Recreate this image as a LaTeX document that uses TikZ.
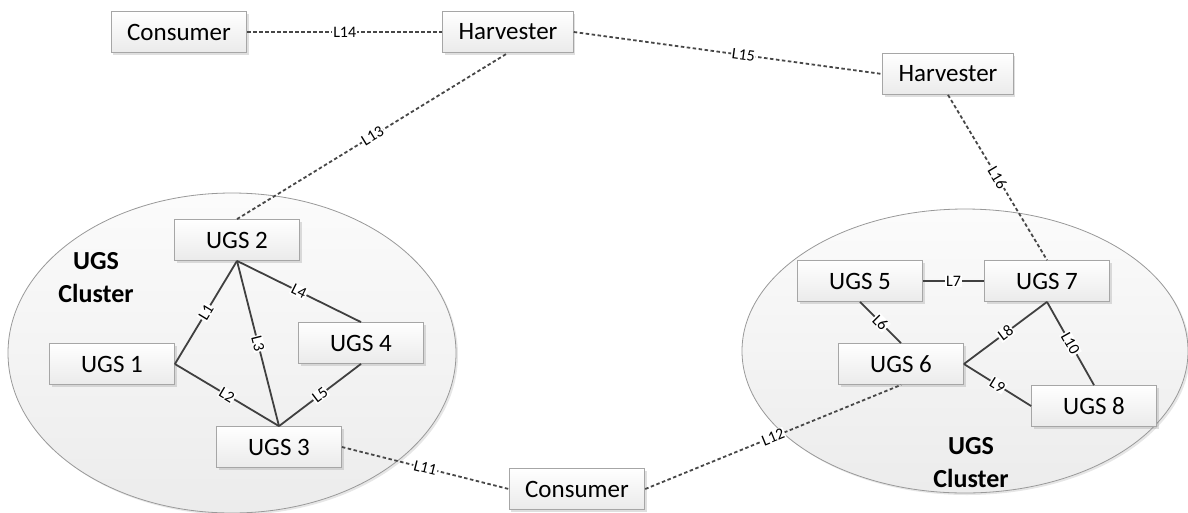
\documentclass[tikz,border=0pt]{standalone}
\usepackage{fontspec}
\setmainfont{Carlito}
\usetikzlibrary{shapes.geometric,shadows}

\tikzset{
	box/.style={draw=gray!70, line width=0.8pt, top color=white, bottom color=gray!16,
		minimum width=125pt, minimum height=41pt, inner xsep=16pt,
		font=\fontsize{25}{30}\selectfont,
		drop shadow={opacity=0.25, shadow xshift=2pt, shadow yshift=-2pt}},
	cluster/.style={ellipse, draw=gray!80, line width=0.8pt, inner sep=0pt,
		top color=gray!3, bottom color=gray!15,
		drop shadow={opacity=0.2, shadow xshift=2pt, shadow yshift=-2pt}},
	title/.style={font=\fontsize{26}{33}\selectfont\bfseries, align=center},
	link/.style={draw=black!75, line width=1.8pt},
	wire/.style={draw=black!72, line width=1.8pt, dash pattern=on 3.5pt off 2.5pt},
	tag/.style={sloped, fill=white, inner sep=0.8pt, font=\fontsize{16}{16}\selectfont},
}

\begin{document}
\begin{tikzpicture}[x=1pt, y=-1pt]
	\useasboundingbox (0,0) rectangle (1188,512);
	% the two clusters
	\node[cluster, minimum width=448pt, minimum height=320pt] (k1) at (232,353) {};
	\node[cluster, minimum width=446pt, minimum height=284pt] (k2) at (965,351) {};
	\node[title] (t1) at (96,278) {UGS\\Cluster};
	\node[title] (t2) at (971,463) {UGS\\Cluster};
	%
	\node[box] (c1) at (179,32) {Consumer};
	\node[box] (h1) at (508,32) {Harvester};
	\node[box] (h2) at (948,74) {Harvester};
	\node[box] (c2) at (577,489) {Consumer};
	%
	\node[box] (u1) at (112,364) {UGS 1};
	\node[box] (u2) at (237,240) {UGS 2};
	\node[box] (u3) at (279,447) {UGS 3};
	\node[box] (u4) at (361,343) {UGS 4};
	\node[box] (u5) at (860,281) {UGS 5};
	\node[box] (u6) at (901,364) {UGS 6};
	\node[box] (u7) at (1047,281) {UGS 7};
	\node[box] (u8) at (1094,406) {UGS 8};
	%
	\draw[link] (u2.south) -- node[tag] {L1} (u1.east);
	\draw[link] (u1.east) -- node[tag] {L2} (u3.north);
	\draw[link] (u2.south) -- node[tag] {L3} (u3.north);
	\draw[link] (u2.south) -- node[tag] {L4} (u4.north);
	\draw[link] (u4.south) -- node[tag] {L5} (u3.north);
	\draw[link] (u5.south) -- node[tag] {L6} (u6.north);
	\draw[link] (u5.east) -- node[tag] {L7} (u7.west);
	\draw[link] (u6.east) -- node[tag] {L8} (u7.south);
	\draw[link] (u6.east) -- node[tag] {L9} (u8.west);
	\draw[link] (u7.south) -- node[tag] {L10} (u8.north);
	%
	\draw[wire] (u3.east) -- node[tag] {L11} (c2.west);
	\draw[wire] (c2.east) -- node[tag] {L12} (u6.south);
	\draw[wire] (u2.north) -- node[tag] {L13} (h1.south);
	\draw[wire] (c1.east) -- node[tag] {L14} (h1.west);
	\draw[wire] (h1.east) -- node[tag, pos=0.55] {L15} (h2.west);
	\draw[wire] (h2.south) -- node[tag] {L16} (u7.north);
\end{tikzpicture}
\end{document}
